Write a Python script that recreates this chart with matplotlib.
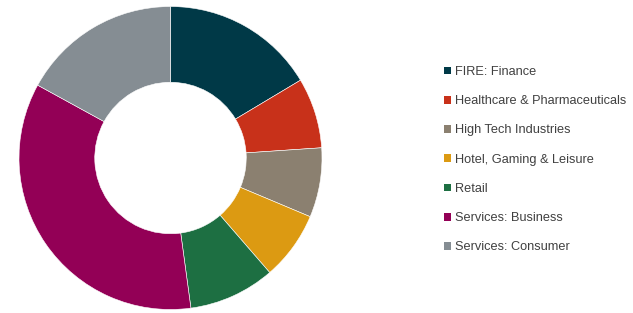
import matplotlib
matplotlib.use("Agg")
import matplotlib.pyplot as plt
from matplotlib.patches import Patch

categories = ["FIRE: Finance", "Healthcare & Pharmaceuticals", "High Tech Industries",
              "Hotel, Gaming & Leisure", "Retail", "Services: Business", "Services: Consumer"]
values = [16.4, 7.5, 7.4, 7.3, 9.2, 35.1, 17.0]
colors = ["#003947", "#C8311A", "#8B8070", "#DC9A12", "#1D6F42", "#930056", "#858D93"]

plt.rcParams['font.family'] = ['Liberation Sans', 'DejaVu Sans']

W, H = 633, 313
fig = plt.figure(figsize=(W/100, H/100), dpi=100)
cx, cy, r = 170.5, 158, 151.5
ax = fig.add_axes([(cx - r)/W, (H - cy - r)/H, 2*r/W, 2*r/H])
ax.pie(values, colors=colors, startangle=90, counterclock=False, radius=1,
       wedgeprops=dict(width=0.5, edgecolor="white", linewidth=0.4))
ax.set_xlim(-1, 1)
ax.set_ylim(-1, 1)
ax.set_aspect("equal")
ax.axis("off")

handles = [Patch(facecolor=c, edgecolor="none") for c in colors]
leg = fig.legend(handles, categories, loc="upper left",
                 bbox_to_anchor=(444/W, 1 - 66/H), frameon=False,
                 fontsize=9.2, handlelength=0.55, handleheight=0.55,
                 handletextpad=0.3, labelspacing=1.35, borderpad=0, borderaxespad=0)
for t in leg.get_texts():
    t.set_color("#404040")

fig.savefig("out.png", dpi=100)
